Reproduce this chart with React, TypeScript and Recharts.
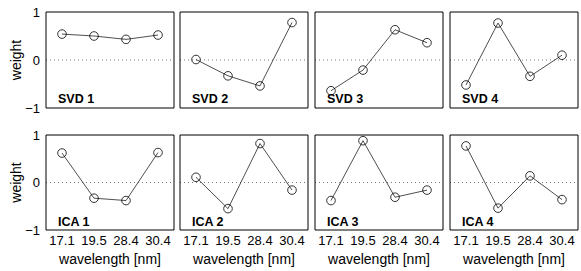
import React from 'react';
import { LineChart, Line, XAxis, YAxis, ReferenceLine } from 'recharts';

const wavelengths = ['17.1', '19.5', '28.4', '30.4'];
const yTicks = [-1, 0, 1];

const svd1 = [0.54, 0.5, 0.43, 0.52];
const svd2 = [0.01, -0.33, -0.54, 0.78];
const svd3 = [-0.64, -0.21, 0.63, 0.36];
const svd4 = [-0.52, 0.77, -0.34, 0.1];
const ica1 = [0.62, -0.33, -0.38, 0.63];
const ica2 = [0.11, -0.55, 0.82, -0.16];
const ica3 = [-0.38, 0.88, -0.31, -0.16];
const ica4 = [0.77, -0.54, 0.14, -0.36];

const rows = [
  [
    { name: 'SVD 1', values: svd1 },
    { name: 'SVD 2', values: svd2 },
    { name: 'SVD 3', values: svd3 },
    { name: 'SVD 4', values: svd4 },
  ],
  [
    { name: 'ICA 1', values: ica1 },
    { name: 'ICA 2', values: ica2 },
    { name: 'ICA 3', values: ica3 },
    { name: 'ICA 4', values: ica4 },
  ],
];

const FONT = '"Liberation Sans", Arial, Helvetica, sans-serif';
const colLeft = [46, 180, 315, 450];
const rowTop = [12, 135];
const rowH = [96, 95];
const plotW = 128;
const yAxisW = 40;
const topPad = 10;

const fmt = (v: number) => (v < 0 ? '\u2212' + Math.abs(v) : String(v));

const Panel = ({ values, row, col }: { values: number[]; row: number; col: number }) => {
  const data = wavelengths.map((wl, i) => ({ wl, v: values[i] }));
  const bottomH = row === 1 ? 40 : 10;
  const h = topPad + rowH[row] + bottomH;
  const pad = { left: 16, right: 16 };
  return (
    <div style={{ position: 'absolute', left: colLeft[col] - yAxisW, top: rowTop[row] - topPad }}>
      <LineChart width={yAxisW + plotW + 6} height={h} data={data} margin={{ top: topPad, right: 6, left: 0, bottom: 0 }}>
        <XAxis
          xAxisId="b"
          dataKey="wl"
          padding={pad}
          interval={0}
          height={bottomH}
          tick={row === 1 ? { fontSize: 13, fill: '#000', fontFamily: FONT } : false}
          tickLine={false}
          tickSize={0}
          tickMargin={6}
          axisLine={{ stroke: '#000' }}
          label={row === 1 ? { value: 'wavelength [nm]', position: 'insideBottom', offset: 6, fontSize: 14, fill: '#000', fontFamily: FONT } : undefined}
        />
        <XAxis xAxisId="bt" dataKey="wl" padding={pad} interval={0} mirror tick={false} tickSize={3} axisLine={false} tickLine={{ stroke: '#000' }} />
        <XAxis xAxisId="t" orientation="top" dataKey="wl" padding={pad} interval={0} mirror tick={false} tickSize={3} axisLine={{ stroke: '#000' }} tickLine={{ stroke: '#000' }} />
        <YAxis
          yAxisId="l"
          domain={[-1, 1]}
          ticks={yTicks}
          width={yAxisW}
          tick={col === 0 ? { fontSize: 13, fill: '#000', fontFamily: FONT } : false}
          tickFormatter={fmt}
          tickLine={false}
          tickSize={0}
          tickMargin={6}
          axisLine={{ stroke: '#000' }}
          label={col === 0 ? { value: 'weight', angle: -90, position: 'insideLeft', offset: 10, fontSize: 14, fill: '#000', fontFamily: FONT, style: { textAnchor: 'middle' } } : undefined}
        />
        <YAxis yAxisId="lt" domain={[-1, 1]} ticks={yTicks} mirror tick={false} tickSize={3} axisLine={false} tickLine={{ stroke: '#000' }} />
        <YAxis yAxisId="r" orientation="right" domain={[-1, 1]} ticks={yTicks} mirror tick={false} tickSize={3} axisLine={{ stroke: '#000' }} tickLine={{ stroke: '#000' }} />
        <ReferenceLine xAxisId="b" yAxisId="l" y={0} stroke="#777" strokeDasharray="1 3" />
        <Line
          xAxisId="b"
          yAxisId="l"
          dataKey="v"
          stroke="#222"
          strokeWidth={0.8}
          dot={{ r: 4.3, stroke: '#000', strokeWidth: 0.8, fill: 'none' }}
          isAnimationActive={false}
        />
      </LineChart>
    </div>
  );
};

const App = () => (
  <div style={{ position: 'absolute', left: 0, top: 0, width: 581, height: 271, background: '#fff', fontFamily: FONT }}>
    {rows.map((r, ri) => r.map((p, ci) => <Panel key={p.name} values={p.values} row={ri} col={ci} />))}
    <svg width={581} height={271} style={{ position: 'absolute', left: 0, top: 0, pointerEvents: 'none' }}>
      {rows.map((r, ri) =>
        r.map((p, ci) => (
          <text key={p.name} x={colLeft[ci] + 12} y={rowTop[ri] + 91} fontSize={12.5} fontWeight="bold" fontFamily={FONT} fill="#000">
            {p.name}
          </text>
        ))
      )}
    </svg>
  </div>
);

export default App;
